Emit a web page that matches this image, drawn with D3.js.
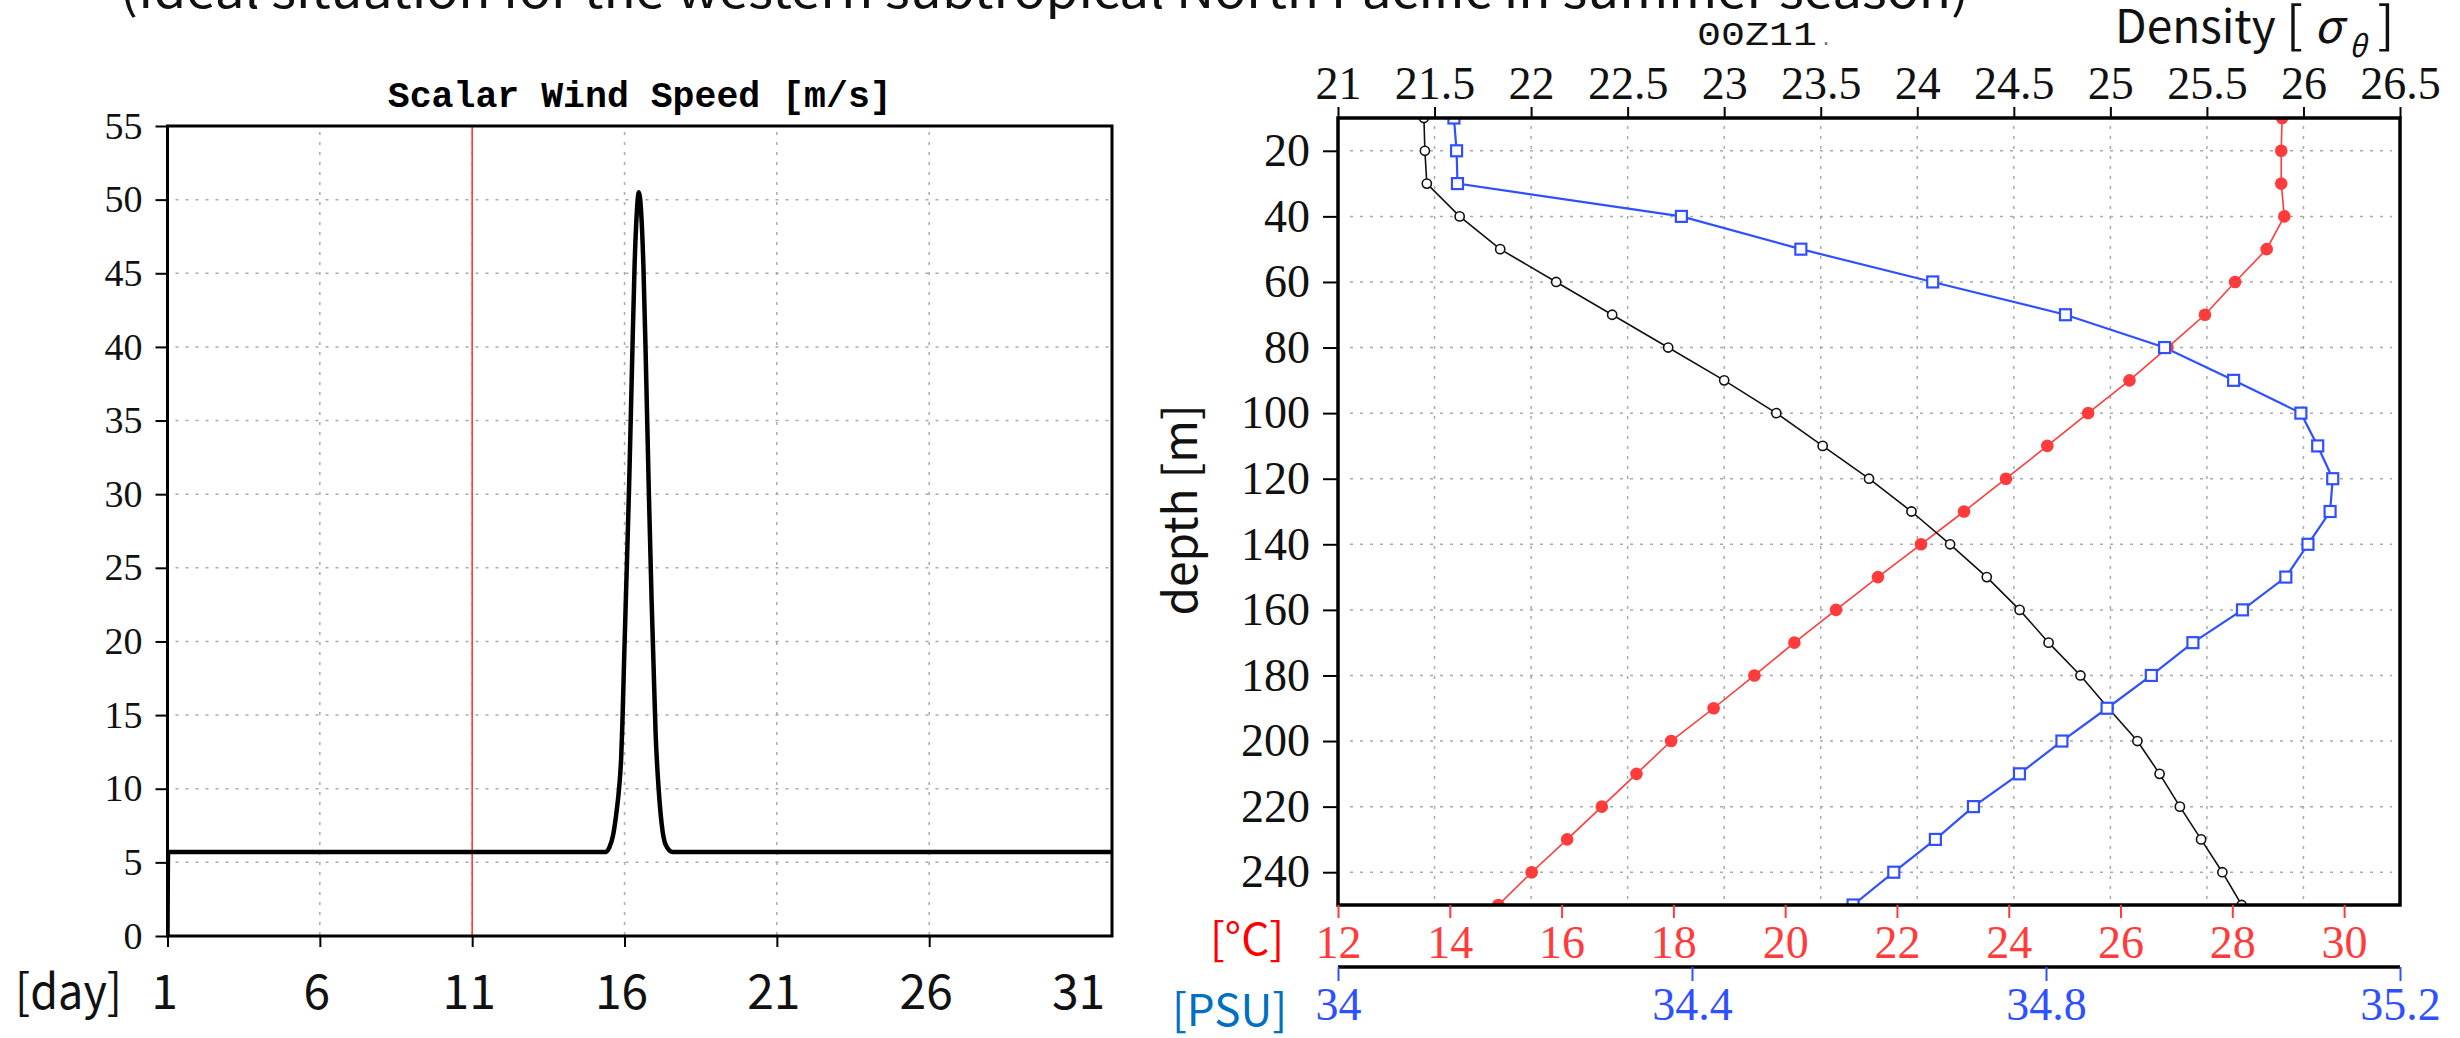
<!DOCTYPE html>
<html>
<head>
<meta charset="utf-8">
<script src="https://cdn.jsdelivr.net/npm/d3@7"></script>
<style>
  body { margin: 0; background: #fff; }
  svg { display: block; }
</style>
</head>
<body>
<div id="chart"></div>
<script>
// ---- left panel: scalar wind speed time series ----
var windDay   = [1, 1.02, 15.37, 15.50, 15.63, 15.73, 15.82, 15.89, 15.93, 15.99, 16.06, 16.15, 16.25, 16.33, 16.40, 16.47, 16.55, 16.62, 16.70, 16.80, 16.89, 16.95, 17.02, 17.12, 17.22, 17.34, 17.58, 32];
var windSpeed = [0, 5.7, 5.7, 6.0, 6.9, 8.3, 10.0, 12.1, 14.4, 19, 24, 30.5, 39, 45.5, 49, 50.5, 49, 45.5, 39, 30, 22.75, 18.6, 13.8, 10, 7.6, 6.25, 5.7, 5.7];
var dayTicks   = [1, 6, 11, 16, 21, 26];
var dayLabels  = [1, 6, 11, 16, 21, 26, 31];
var speedTicks = [0, 5, 10, 15, 20, 25, 30, 35, 40, 45, 50, 55];
var currentDay = 11;

// ---- right panel: vertical profiles ----
var depth       = [10, 20, 30, 40, 50, 60, 70, 80, 90, 100, 110, 120, 130, 140, 150, 160, 170, 180, 190, 200, 210, 220, 230, 240, 250];
var density     = [21.445, 21.45, 21.46, 21.63, 21.84, 22.13, 22.42, 22.71, 23.0, 23.27, 23.51, 23.75, 23.97, 24.17, 24.36, 24.53, 24.68, 24.845, 24.99, 25.14, 25.255, 25.36, 25.47, 25.58, 25.68];
var temperature = [28.89, 28.875, 28.875, 28.93, 28.615, 28.05, 27.51, 26.84, 26.16, 25.42, 24.69, 23.95, 23.20, 22.43, 21.66, 20.91, 20.165, 19.45, 18.72, 17.96, 17.34, 16.72, 16.10, 15.465, 14.87];
var salinity    = [34.131, 34.134, 34.135, 34.388, 34.523, 34.672, 34.822, 34.934, 35.012, 35.088, 35.107, 35.124, 35.121, 35.096, 35.071, 35.022, 34.966, 34.919, 34.869, 34.818, 34.770, 34.718, 34.675, 34.628, 34.582];
var densityTicks = [21, 21.5, 22, 22.5, 23, 23.5, 24, 24.5, 25, 25.5, 26, 26.5];
var depthTicks   = [20, 40, 60, 80, 100, 120, 140, 160, 180, 200, 220, 240];
var tempTicks    = [12, 14, 16, 18, 20, 22, 24, 26, 28, 30];
var salTicks     = [34, 34.4, 34.8, 35.2];

var serif = "'Liberation Serif', serif",
    mono  = "'Liberation Mono', monospace",
    sans  = "'Noto Sans CJK JP', 'Noto Sans', sans-serif";
var red = "#ff3b3b", blue = "#2f50ff", grid = "#a9a9a9";

var svg = d3.select("#chart").append("svg")
    .attr("width", 2460)
    .attr("height", 1038);

// cut-off heading at the very top
svg.append("text")
    .attr("x", 120).attr("y", 8)
    .attr("font-family", sans).attr("font-size", 48)
    .attr("textLength", 1849).attr("lengthAdjust", "spacingAndGlyphs")
    .attr("fill", "#111")
    .text("(Ideal situation for the western subtropical North Pacific in summer season)");

function dotted(sel) {
    sel.attr("stroke", grid).attr("stroke-width", 1.5).attr("stroke-dasharray", "3,7");
}

// ================= left panel =================
var xL = d3.scaleLinear().domain([1, 32]).range([167.5, 1112]);
var yL = d3.scaleLinear().domain([0, 55]).range([936, 126]);
var gL = svg.append("g");

gL.append("defs").append("clipPath").attr("id", "clipL")
  .append("rect")
    .attr("x", xL(1)).attr("y", yL(55))
    .attr("width", xL(32) - xL(1)).attr("height", yL(0) - yL(55));

gL.selectAll(".hgrid")
  .data(speedTicks.filter(d => d > 0 && d < 55))
  .join("line")
    .attr("x1", xL(1) + 8).attr("x2", xL(32))
    .attr("y1", d => yL(d)).attr("y2", d => yL(d))
    .call(dotted);
gL.selectAll(".vgrid")
  .data(dayTicks.filter(d => d > 1))
  .join("line")
    .attr("x1", d => xL(d)).attr("x2", d => xL(d))
    .attr("y1", yL(55) + 6).attr("y2", yL(0))
    .call(dotted);

// current day marker
gL.append("line")
    .attr("x1", xL(currentDay)).attr("x2", xL(currentDay))
    .attr("y1", yL(55)).attr("y2", yL(0))
    .attr("stroke", red).attr("stroke-width", 1.6);

var windLine = d3.line()
    .x(d => xL(d[0]))
    .y(d => yL(d[1]))
    .curve(d3.curveMonotoneX);
gL.append("path")
    .datum(d3.zip(windDay, windSpeed))
    .attr("clip-path", "url(#clipL)")
    .attr("d", windLine)
    .attr("fill", "none")
    .attr("stroke", "#000")
    .attr("stroke-width", 4.5)
    .attr("stroke-linejoin", "round");

gL.append("rect")
    .attr("x", xL(1)).attr("y", yL(55))
    .attr("width", xL(32) - xL(1)).attr("height", yL(0) - yL(55))
    .attr("fill", "none").attr("stroke", "#000").attr("stroke-width", 3);

gL.append("g")
    .attr("transform", "translate(" + xL(1) + ",0)")
    .call(d3.axisLeft(yL).tickValues(speedTicks).tickSize(12).tickPadding(13))
    .attr("font-family", serif).attr("font-size", 38)
    .call(g => g.select(".domain").remove())
    .call(g => g.selectAll("line").attr("stroke", "#000").attr("stroke-width", 2))
    .call(g => g.selectAll("text").attr("fill", "#111"));

gL.append("g")
    .attr("transform", "translate(0," + yL(0) + ")")
    .call(d3.axisBottom(xL).tickValues(dayTicks).tickSize(11).tickFormat(""))
    .call(g => g.select(".domain").remove())
    .call(g => g.selectAll("line").attr("stroke", "#000").attr("stroke-width", 2));

gL.selectAll(".daylab")
  .data(dayLabels)
  .join("text")
    .attr("x", d => xL(d) - 3).attr("y", 1009)
    .attr("text-anchor", "middle")
    .attr("font-family", sans).attr("font-size", 48)
    .attr("fill", "#111")
    .text(d => d);

gL.append("text")
    .attr("x", 15).attr("y", 1009)
    .attr("font-family", sans).attr("font-size", 48)
    .attr("textLength", 107).attr("lengthAdjust", "spacingAndGlyphs")
    .attr("fill", "#111")
    .text("[day]");

gL.append("text")
    .attr("x", (xL(1) + xL(32)) / 2).attr("y", 107)
    .attr("text-anchor", "middle")
    .attr("font-family", mono).attr("font-weight", "bold").attr("font-size", 37)
    .attr("textLength", 504).attr("lengthAdjust", "spacingAndGlyphs")
    .attr("fill", "#000")
    .text("Scalar Wind Speed [m/s]");

// ================= right panel =================
var yR   = d3.scaleLinear().domain([10, 250]).range([118, 905]);
var xDen = d3.scaleLinear().domain([21, 26.5]).range([1338, 2400]);
var xTem = d3.scaleLinear().domain([12, 31]).range([1338, 2400]);
var xSal = d3.scaleLinear().domain([34, 35.2]).range([1338, 2400]);
var gR = svg.append("g");

gR.append("defs").append("clipPath").attr("id", "clipR")
  .append("rect")
    .attr("x", xDen(21)).attr("y", yR(10))
    .attr("width", xDen(26.5) - xDen(21)).attr("height", yR(250) - yR(10));

gR.selectAll(".hgrid")
  .data(depthTicks)
  .join("line")
    .attr("x1", xDen(21) + 12).attr("x2", xDen(26.5) - 8)
    .attr("y1", d => yR(d)).attr("y2", d => yR(d))
    .call(dotted);
gR.selectAll(".vgrid")
  .data(densityTicks.filter(d => d > 21 && d < 26.5))
  .join("line")
    .attr("x1", d => xDen(d)).attr("x2", d => xDen(d))
    .attr("y1", yR(10) + 8).attr("y2", yR(250))
    .call(dotted);

var plot = gR.append("g").attr("clip-path", "url(#clipR)");

var tLine = d3.line().x(d => xTem(d[0])).y(d => yR(d[1]));
var sLine = d3.line().x(d => xSal(d[0])).y(d => yR(d[1]));
var dLine = d3.line().x(d => xDen(d[0])).y(d => yR(d[1]));

plot.append("path").datum(d3.zip(temperature, depth))
    .attr("d", tLine).attr("fill", "none").attr("stroke", red).attr("stroke-width", 1.6);
plot.append("path").datum(d3.zip(density, depth))
    .attr("d", dLine).attr("fill", "none").attr("stroke", "#111").attr("stroke-width", 1.6);
plot.append("path").datum(d3.zip(salinity, depth))
    .attr("d", sLine).attr("fill", "none").attr("stroke", blue).attr("stroke-width", 2.2);

plot.selectAll(".tmark")
  .data(d3.zip(temperature, depth))
  .join("circle")
    .attr("cx", d => xTem(d[0])).attr("cy", d => yR(d[1]))
    .attr("r", 6.3).attr("fill", red);
plot.selectAll(".dmark")
  .data(d3.zip(density, depth))
  .join("circle")
    .attr("cx", d => xDen(d[0])).attr("cy", d => yR(d[1]))
    .attr("r", 4.6).attr("fill", "#fff").attr("stroke", "#111").attr("stroke-width", 1.6);
plot.selectAll(".smark")
  .data(d3.zip(salinity, depth))
  .join("rect")
    .attr("x", d => xSal(d[0]) - 5.5).attr("y", d => yR(d[1]) - 5.5)
    .attr("width", 11).attr("height", 11)
    .attr("fill", "#fff").attr("stroke", blue).attr("stroke-width", 2.2);

gR.append("rect")
    .attr("x", xDen(21)).attr("y", yR(10))
    .attr("width", xDen(26.5) - xDen(21)).attr("height", yR(250) - yR(10))
    .attr("fill", "none").attr("stroke", "#000").attr("stroke-width", 3.5);

// depth axis
gR.append("g")
    .attr("transform", "translate(" + xDen(21) + ",0)")
    .call(d3.axisLeft(yR).tickValues(depthTicks).tickSize(15).tickPadding(13))
    .attr("font-family", serif).attr("font-size", 46)
    .call(g => g.select(".domain").remove())
    .call(g => g.selectAll("line").attr("stroke", "#000").attr("stroke-width", 2))
    .call(g => g.selectAll("text").attr("fill", "#111"));

// density axis (top)
gR.append("g")
    .attr("transform", "translate(0," + yR(10) + ")")
    .call(d3.axisTop(xDen).tickValues(densityTicks).tickSize(11).tickPadding(8).tickFormat(d3.format("")))
    .attr("font-family", serif).attr("font-size", 46)
    .call(g => g.select(".domain").remove())
    .call(g => g.selectAll("line").attr("stroke", "#000").attr("stroke-width", 2))
    .call(g => g.selectAll("text").attr("fill", "#111"));

// temperature axis (bottom, red)
gR.append("g")
    .attr("transform", "translate(0," + yR(250) + ")")
    .call(d3.axisBottom(xTem).tickValues(tempTicks).tickSize(13).tickPadding(7))
    .attr("font-family", serif).attr("font-size", 46)
    .call(g => g.select(".domain").remove())
    .call(g => g.selectAll("line").attr("stroke", red).attr("stroke-width", 2))
    .call(g => g.selectAll("text").attr("fill", red));

// salinity axis (second bottom line, blue)
var salY = 967;
gR.append("line")
    .attr("x1", xSal(34)).attr("x2", xSal(35.2))
    .attr("y1", salY).attr("y2", salY)
    .attr("stroke", "#000").attr("stroke-width", 3.5);
gR.append("g")
    .attr("transform", "translate(0," + salY + ")")
    .call(d3.axisBottom(xSal).tickValues(salTicks).tickSize(14).tickPadding(6).tickFormat(d3.format("")))
    .attr("font-family", serif).attr("font-size", 46)
    .call(g => g.select(".domain").remove())
    .call(g => g.selectAll("line").attr("stroke", blue).attr("stroke-width", 2))
    .call(g => g.selectAll("text").attr("fill", blue));

gR.append("text")
    .attr("x", 1210).attr("y", 955)
    .attr("font-family", sans).attr("font-size", 44)
    .attr("fill", "#ff0000")
    .text("[°C]");
gR.append("text")
    .attr("x", 1172).attr("y", 1026)
    .attr("font-family", sans).attr("font-size", 44)
    .attr("fill", "#0070c0")
    .text("[PSU]");

gR.append("text")
    .attr("transform", "translate(1197,510) rotate(-90)")
    .attr("text-anchor", "middle")
    .attr("font-family", sans).attr("font-size", 46)
    .attr("fill", "#111")
    .text("depth [m]");

var dens = gR.append("text")
    .attr("x", 2115).attr("y", 43)
    .attr("font-family", sans).attr("font-size", 46)
    .attr("fill", "#111");
dens.append("tspan").text("Density ");
dens.append("tspan").attr("font-size", 50).text("[ ");
dens.append("tspan").attr("font-style", "italic").text("σ");
dens.append("tspan").attr("font-style", "italic").attr("font-size", 30).attr("dy", 14).text(" θ");
dens.append("tspan").attr("font-size", 50).attr("dy", -14).text(" ]");

gR.append("text")
    .attr("x", 1697).attr("y", 45)
    .attr("font-family", mono).attr("font-size", 34)
    .attr("textLength", 120).attr("lengthAdjust", "spacingAndGlyphs")
    .attr("fill", "#111")
    .text("00Z11");
gR.append("text")
    .attr("x", 1820).attr("y", 45)
    .attr("font-family", mono).attr("font-size", 20)
    .attr("fill", "#777")
    .text(".");
</script>
</body>
</html>
